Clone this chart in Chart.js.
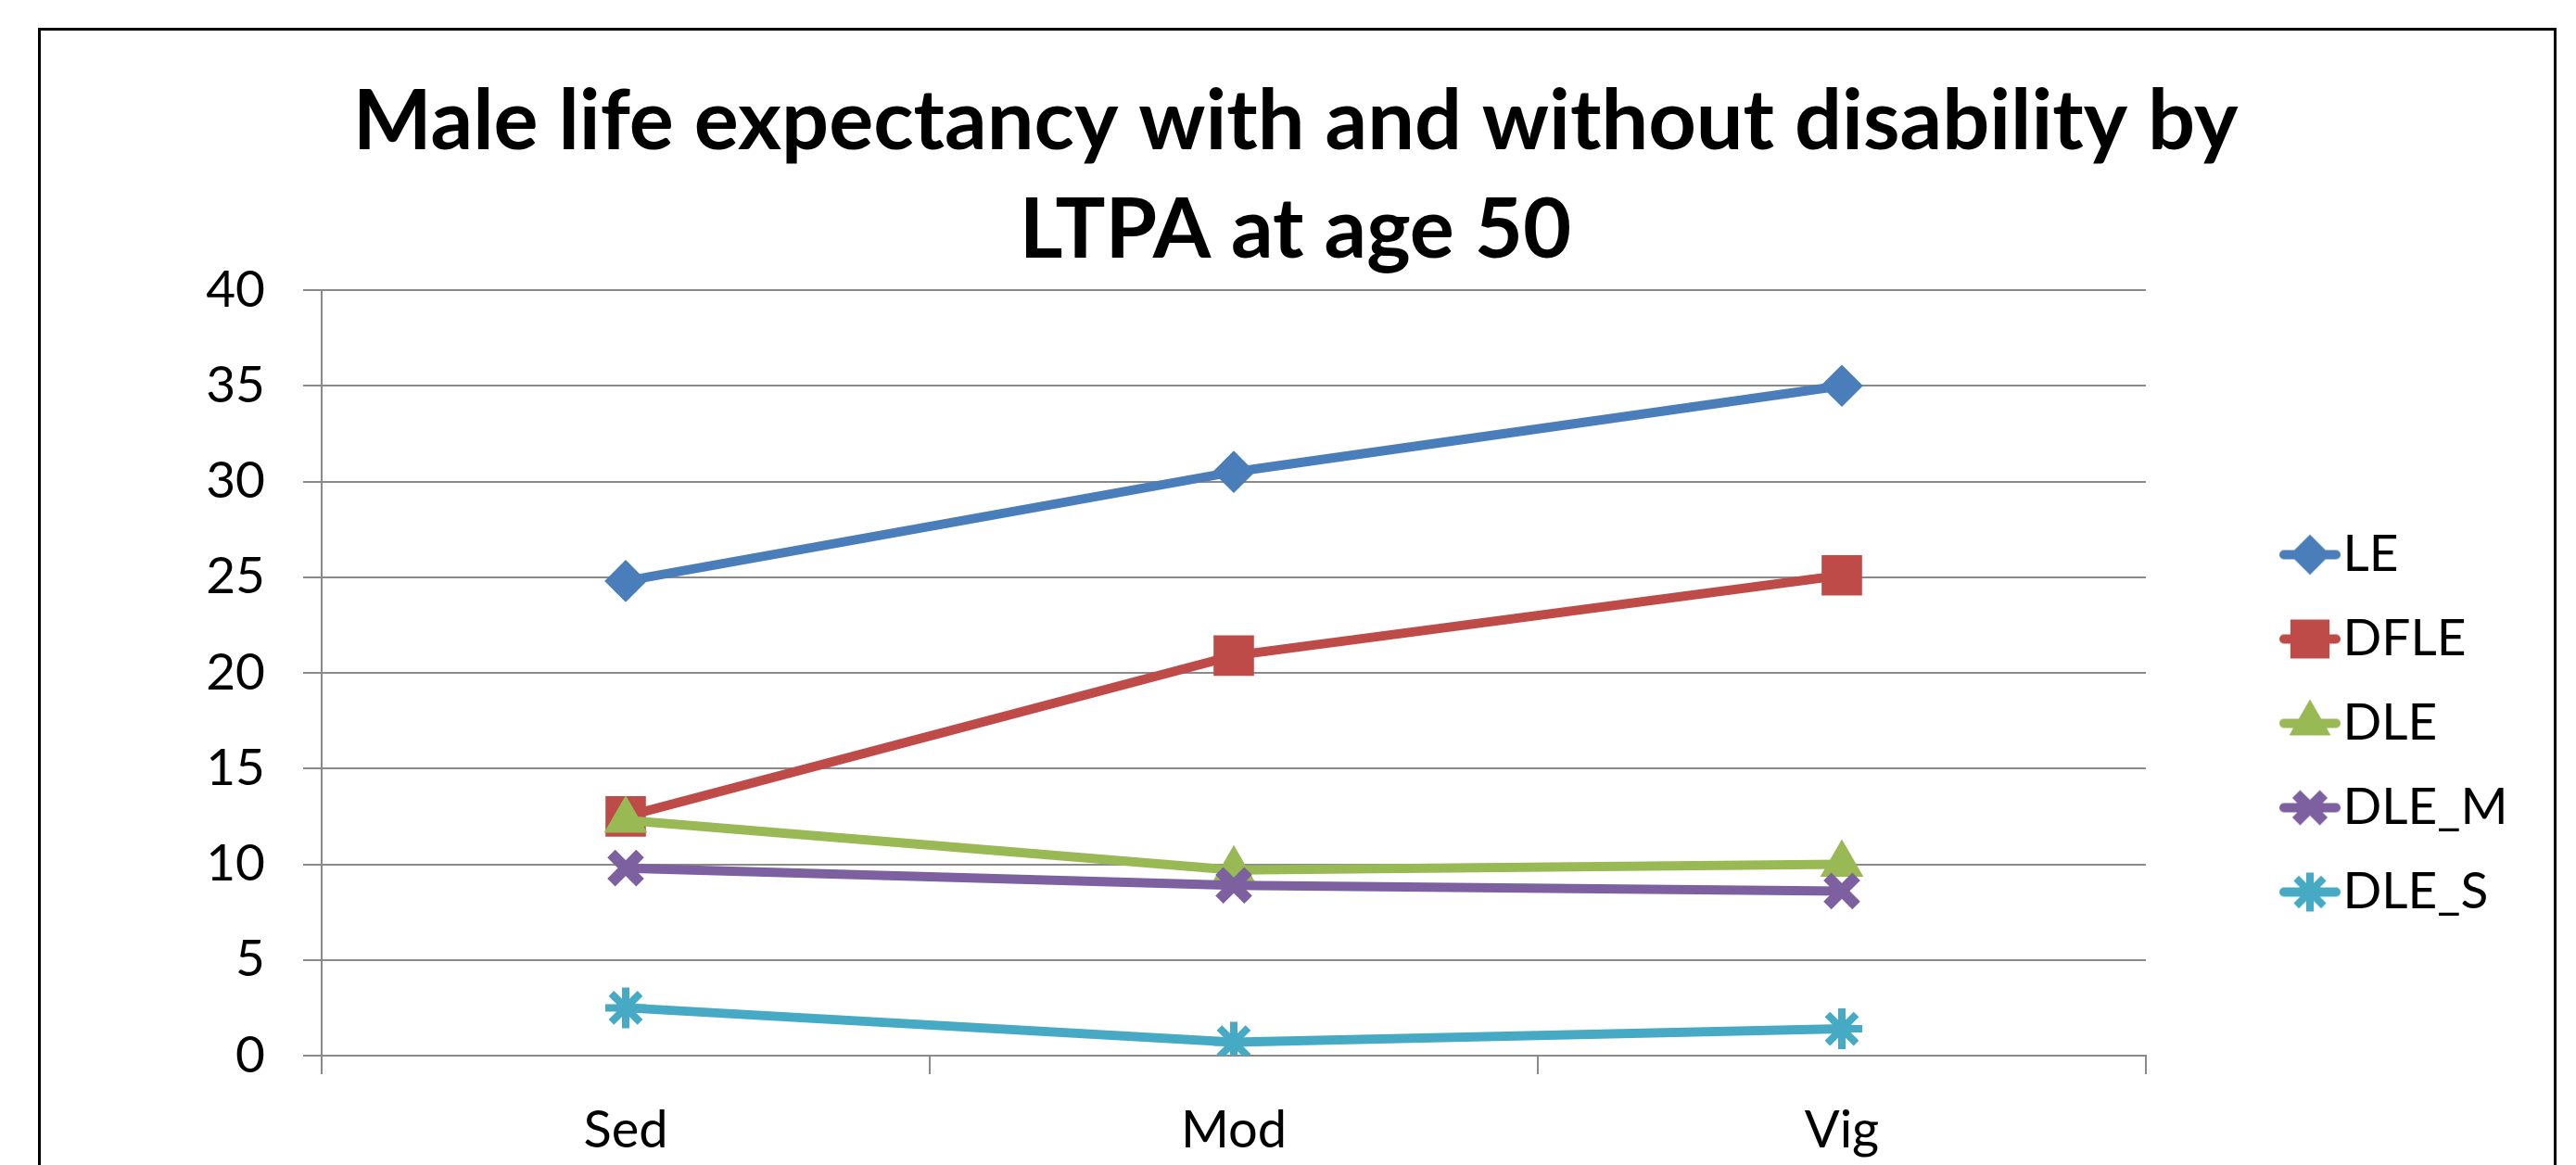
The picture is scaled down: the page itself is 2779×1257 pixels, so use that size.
<!DOCTYPE html>
<html>
<head>
<meta charset="utf-8">
<title>Male life expectancy with and without disability by LTPA at age 50</title>
<script src="https://cdn.jsdelivr.net/npm/chart.js@4.4.1/dist/chart.umd.min.js"></script>
<style>
  html, body { margin: 0; padding: 0; background: #fff; overflow: hidden; }
  #wrap { position: relative; width: 2779px; height: 1257px; }
  #frame { position: absolute; left: 41px; top: 30px; width: 2717px; height: 1400px; border: 3px solid #000; box-sizing: border-box; }
  #chart { position: absolute; left: 0; top: 0; }
</style>
</head>
<body>
<div id="wrap">
  <div id="frame"></div>
  <canvas id="chart" width="2779" height="1257"></canvas>
</div>
<script>
// Data
const categories = ['Sed', 'Mod', 'Vig'];
const seriesNames = ['LE', 'DFLE', 'DLE', 'DLE_M', 'DLE_S'];
const le = [24.8, 30.5, 35.0];
const dfle = [12.5, 20.9, 25.1];
const dle = [12.3, 9.7, 10.0];
const dleM = [9.8, 8.9, 8.6];
const dleS = [2.5, 0.7, 1.4];
const yTicks = [0, 5, 10, 15, 20, 25, 30, 35, 40];
const titleLines = ['Male life expectancy with and without disability by', 'LTPA at age 50'];

// Look
const seriesColors = ['#4A7EBB', '#BE4B48', '#98B954', '#7D60A0', '#46AAC5'];
const markerStyles = ['rectRot', 'rect', 'triangle', 'crossRot', 'star'];
const markerRadius = [20, 28, 23, 22, 22];
const markerBorder = [4, 4, 4, 12, 8];
const gridColor = '#8a8a8a';
const fontFamily = 'Lato, "Open Sans", sans-serif';

const seriesValues = [le, dfle, dle, dleM, dleS];

// small line + marker images for the legend
function makeIcon(i) {
    const c = document.createElement('canvas');
    c.width = 66;
    c.height = 52;
    const ctx = c.getContext('2d');
    ctx.strokeStyle = seriesColors[i];
    ctx.fillStyle = seriesColors[i];
    ctx.lineWidth = 10;
    ctx.lineCap = 'round';
    ctx.beginPath();
    ctx.moveTo(5, 26);
    ctx.lineTo(61, 26);
    ctx.stroke();
    ctx.lineCap = 'butt';
    ctx.lineWidth = markerBorder[i];
    Chart.helpers.drawPoint(ctx, {
        pointStyle: markerStyles[i],
        radius: markerRadius[i] - 1,
        borderWidth: markerBorder[i],
        rotation: 0
    }, 33, 26);
    return c;
}
const legendIcons = seriesNames.map((_, i) => makeIcon(i));

// put the legend where the original has it
const legendPlace = {
    id: 'legendPlace',
    afterLayout(chart) {
        const lg = chart.legend;
        if (!lg) return;
        lg.left = 2448;
        lg.top = 535;
        lg.width = 310;
        lg.height = 640;
        lg.right = lg.left + lg.width;
        lg.bottom = lg.top + lg.height;
    }
};

const datasets = seriesNames.map((name, i) => ({
    label: name,
    data: seriesValues[i],
    borderColor: seriesColors[i],
    backgroundColor: seriesColors[i],
    borderWidth: 10,
    tension: 0,
    fill: false,
    pointStyle: markerStyles[i],
    pointRadius: markerRadius[i],
    pointHoverRadius: markerRadius[i],
    pointBorderWidth: markerBorder[i],
    pointHoverBorderWidth: markerBorder[i],
    pointBackgroundColor: seriesColors[i],
    pointBorderColor: seriesColors[i],
    order: seriesNames.length - i
}));

new Chart(document.getElementById('chart').getContext('2d'), {
    type: 'line',
    data: { labels: categories, datasets: datasets },
    options: {
        responsive: false,
        animation: false,
        devicePixelRatio: 1,
        layout: { padding: { left: 16, right: 0, top: 0, bottom: 0 } },
        plugins: {
            title: {
                display: true,
                text: titleLines,
                color: '#000',
                font: { family: fontFamily, size: 90, weight: 'bold', lineHeight: '117px' },
                padding: { top: 73, bottom: 6 }
            },
            legend: {
                display: true,
                position: 'chartArea',
                align: 'start',
                labels: {
                    usePointStyle: true,
                    pointStyleWidth: 16,
                    padding: 36,
                    color: '#000',
                    font: { family: fontFamily, size: 55 },
                    generateLabels(chart) {
                        const items = Chart.defaults.plugins.legend.labels.generateLabels(chart);
                        items.sort((a, b) => a.datasetIndex - b.datasetIndex);
                        items.forEach(it => { it.pointStyle = legendIcons[it.datasetIndex]; });
                        return items;
                    }
                }
            },
            tooltip: { enabled: false }
        },
        scales: {
            x: {
                type: 'category',
                offset: true,
                grid: { offset: true, drawOnChartArea: false, drawTicks: true, tickLength: 20, color: gridColor, lineWidth: 2 },
                border: { display: true, color: gridColor, width: 2 },
                ticks: { color: '#000', font: { family: fontFamily, size: 56 }, padding: 27, maxRotation: 0, autoSkip: false },
                afterFit: s => { s.height = 118; }
            },
            y: {
                min: 0,
                max: 40,
                afterBuildTicks: s => { s.ticks = yTicks.map(v => ({ value: v })); },
                grid: { color: gridColor, lineWidth: 2, drawTicks: true, tickLength: 20 },
                border: { display: true, color: gridColor, width: 2 },
                ticks: { color: '#000', font: { family: fontFamily, size: 55 }, padding: 41 },
                afterFit: s => { s.width = 331; }
            },
            gap: {
                type: 'linear',
                position: 'right',
                display: true,
                grid: { display: false },
                border: { display: false },
                ticks: { display: false },
                afterFit: s => { s.width = 464; }
            }
        }
    },
    plugins: [legendPlace]
});
</script>
</body>
</html>
